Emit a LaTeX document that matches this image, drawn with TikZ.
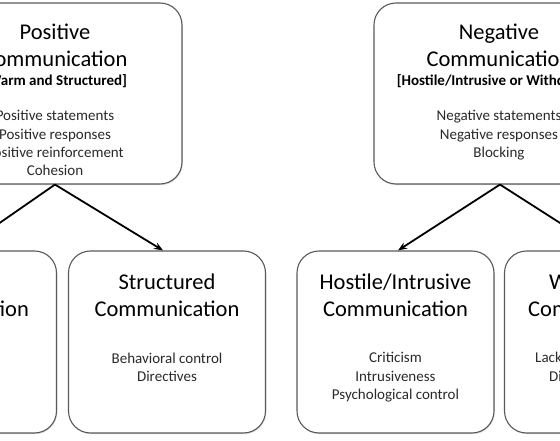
\documentclass[tikz,border=0pt]{standalone}
\usepackage{fontspec}
\setmainfont{Carlito}
\usetikzlibrary{arrows.meta,shadows}
\definecolor{boxline}{HTML}{5A5A5A}
\definecolor{itemtxt}{HTML}{2A2A2A}
\tikzset{
  box/.style={draw=boxline, line width=1.1pt, rounded corners=22pt, fill=white,
    drop shadow={opacity=0.25, shadow xshift=0.8pt, shadow yshift=-1.2pt},
    inner sep=0pt},
  topbox/.style={box, minimum width=254pt, minimum height=181pt},
  botbox/.style={box, minimum width=197pt, minimum height=182pt},
  ttl/.style={anchor=base, inner sep=0pt, text=black, font=\fontsize{22.5}{27}\selectfont},
  sub/.style={anchor=base, inner sep=0pt, text=black, font=\fontsize{15}{18}\selectfont\bfseries},
  item/.style={anchor=base, inner sep=0pt, text=itemtxt, font=\fontsize{15}{18}\selectfont},
  itemw/.style={item, anchor=base west},
  conn/.style={line width=1.8pt, black, -{Stealth[length=9pt,width=7pt]}}
}
\begin{document}
\begin{tikzpicture}[x=1pt,y=-1pt]
\useasboundingbox (0,0) rectangle (560,441);
\clip (0,0) rectangle (560,441);
\fill[white] (0,0) rectangle (560,441);
% top boxes
\node[topbox] (pos) at (55,93.5) {};
\node[topbox, minimum width=252pt] (neg) at (500,93.5) {};
% bottom boxes
\node[botbox] (lb) at (-42,342) {};
\node[botbox] (sb) at (167,342) {};
\node[botbox] (hb) at (395.5,342) {};
\node[botbox] (wb) at (603,342) {};
% positive texts
\node[ttl] (p1) at (55,40) {Positive};
\node[ttl] (p2) at (55,66.5) {Communication};
\node[sub] (p3) at (55,86) {[Warm and Structured]};
\node[item] (p4) at (55,121) {Positive statements};
\node[item] (p5) at (55,139.5) {Positive responses};
\node[item] (p6) at (55,157.5) {Positive reinforcement};
\node[item] (p7) at (55,176) {Cohesion};
% negative texts
\node[ttl] (n1) at (499,40) {Negative};
\node[ttl] (n2) at (499,66.5) {Communication};
\node[sub] (n3) at (499,86) {[Hostile/Intrusive or Withdrawn]};
\node[item] (n4) at (499,121) {Negative statements};
\node[item] (n5) at (499,139.5) {Negative responses};
\node[item] (n6) at (499,157.5) {Blocking};
% left bottom
\node[ttl] (l1) at (-43.5,289) {Warm};
\node[ttl] (l2) at (-43.5,316) {Communication};
% structured
\node[ttl] (s1) at (167,289) {Structured};
\node[ttl] (s2) at (167,316) {Communication};
\node[item] (s3) at (167,363) {Behavioral control};
\node[item] (s4) at (167,381.5) {Directives};
% hostile
\node[ttl] (h1) at (395.5,289) {Hostile/Intrusive};
\node[ttl] (h2) at (395.5,316) {Communication};
\node[item] (h3) at (395.5,362.5) {Criticism};
\node[item] (h4) at (395.5,381) {Intrusiveness};
\node[item] (h5) at (395.5,399.5) {Psychological control};
% withdrawn
\node[ttl, anchor=base west] (w1) at (549,289) {Withdrawn};
\node[ttl, anchor=base west] (w2) at (528,316) {Communication};
\node[itemw] (w3) at (535,362.5) {Lack of responsiveness};
\node[itemw] (w4) at (549,381) {Disengagement};
% connectors
\draw[conn] (pos.south) -- ([xshift=2pt]lb.north);
\draw[conn] (pos.south) -- ([xshift=-4pt]sb.north);
\draw[conn] (neg.south) -- ([xshift=2.5pt]hb.north);
\draw[conn] (neg.south) -- (wb.north);
\end{tikzpicture}
\end{document}
